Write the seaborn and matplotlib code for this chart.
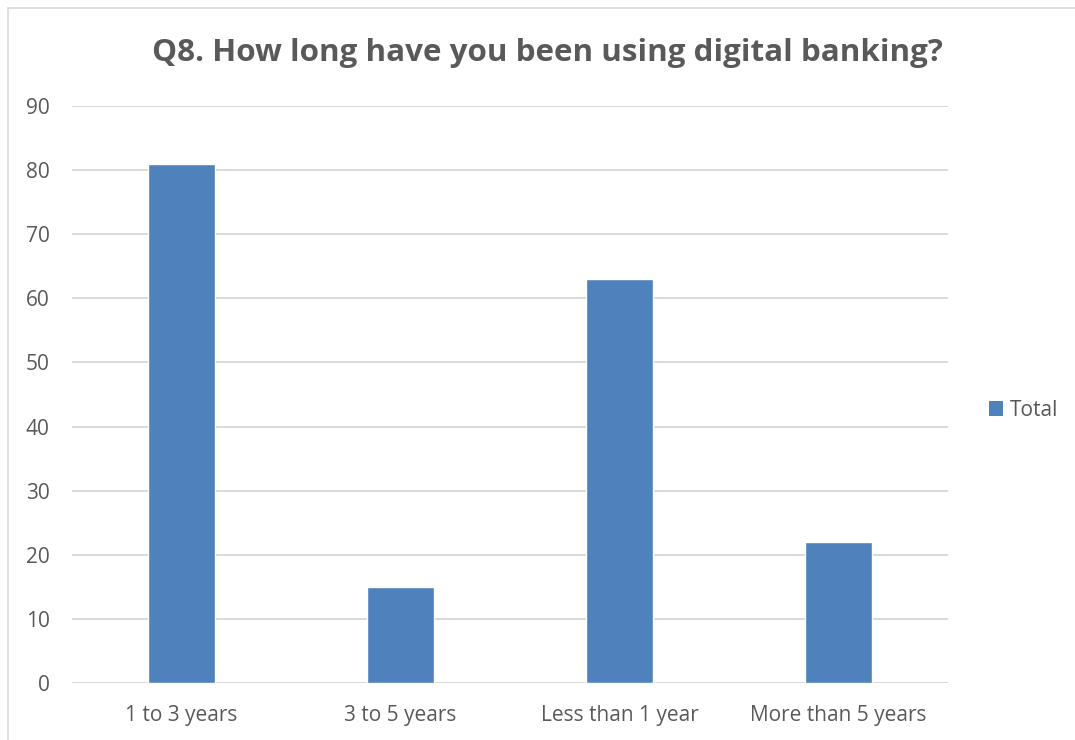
import matplotlib
matplotlib.use("Agg")
import matplotlib.pyplot as plt
import seaborn as sns
import pandas as pd
from matplotlib.lines import Line2D
from matplotlib.patches import Patch

categories = ["1 to 3 years", "3 to 5 years", "Less than 1 year", "More than 5 years"]
totals = [81, 15, 63, 22]
y_ticks = [0, 10, 20, 30, 40, 50, 60, 70, 80, 90]

df = pd.DataFrame({"duration": categories, "Total": totals})

sns.set_theme(style="white")
plt.rcParams["font.family"] = ["Open Sans", "DejaVu Sans"]

text_color = "#595959"
grid_color = "#d9d9d9"
bar_color = "#4f81bd"

fig = plt.figure(figsize=(10.75, 7.4), dpi=100)
ax = fig.add_axes([72 / 1075, 1 - 683 / 740, (948 - 72) / 1075, (683 - 106) / 740])

sns.barplot(data=df, x="duration", y="Total", color=bar_color, width=0.31,
            saturation=1, ax=ax, zorder=3)

ax.set_ylim(0, 90)
ax.set_xlim(-0.5, len(categories) - 0.5)
ax.set_yticks(y_ticks)
ax.yaxis.grid(True, color=grid_color, linewidth=1.4, zorder=0)
ax.set_axisbelow(True)
for s in ax.spines.values():
    s.set_visible(False)
ax.tick_params(axis="both", length=0, labelsize=15, colors=text_color)
ax.tick_params(axis="y", pad=16)
ax.tick_params(axis="x", pad=15.5)
ax.set_xlabel("")
ax.set_ylabel("")

fig.text(547 / 1075, 1 - 53 / 740, "Q8. How long have you been using digital banking?",
         ha="center", va="center", fontsize=22.6, fontweight="bold", color=text_color)

ax.legend(handles=[Patch(facecolor=bar_color, edgecolor="none", label="Total")],
          loc="center left", bbox_to_anchor=(970 / 1075, 1 - 410 / 740),
          bbox_transform=fig.transFigure, frameon=False, fontsize=15,
          handlelength=0.7, handleheight=0.7, handletextpad=0.3,
          labelcolor=text_color)

# chart frame edges
fig.add_artist(Line2D([7.5 / 1075, 1.0], [1 - 7.5 / 740] * 2, transform=fig.transFigure,
                      color=grid_color, linewidth=1.2))
fig.add_artist(Line2D([7.5 / 1075] * 2, [0.0, 1 - 7.5 / 740], transform=fig.transFigure,
                      color=grid_color, linewidth=1.2))

fig.savefig("out.png", dpi=100, facecolor="white")
